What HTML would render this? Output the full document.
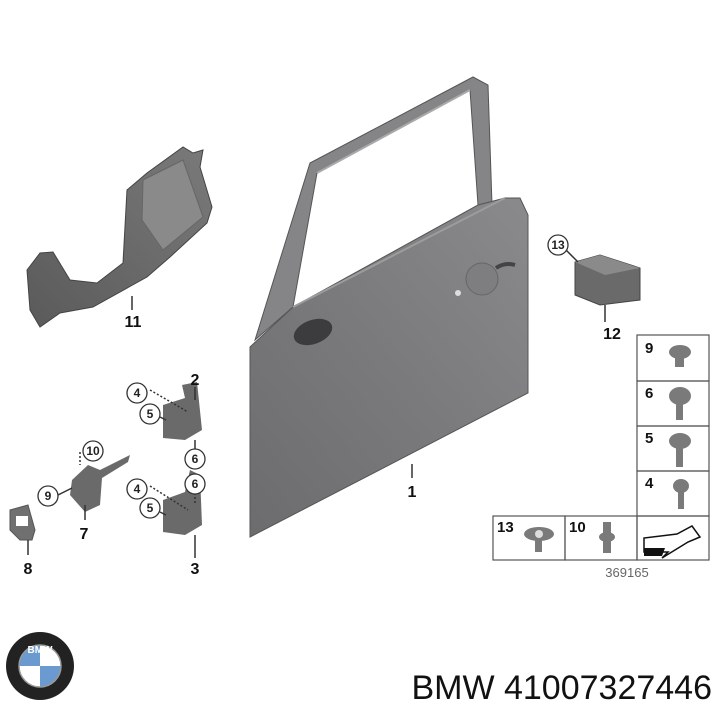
<!DOCTYPE html>
<html><head><style>
html,body{margin:0;padding:0;background:#fff;width:720px;height:720px;overflow:hidden}
svg{display:block}
text{font-family:"Liberation Sans",Arial,sans-serif}
</style></head><body>
<svg width="720" height="720" viewBox="0 0 720 720" xmlns="http://www.w3.org/2000/svg">
<defs>
<linearGradient id="dg" x1="1" y1="0" x2="0" y2="1">
<stop offset="0" stop-color="#8a8a8c"/><stop offset="0.5" stop-color="#7a7a7c"/><stop offset="1" stop-color="#6c6c6e"/>
</linearGradient>
<linearGradient id="pg" x1="1" y1="0" x2="0" y2="1">
<stop offset="0" stop-color="#7a7a7a"/><stop offset="1" stop-color="#5a5a5a"/>
</linearGradient>
</defs>
<!-- door frame -->
<path d="M255 340 L310 163 L473 77 L488 85 L492 205 L478 205 L470 90 L317 173 L293 307 Z" fill="#858587" stroke="#555" stroke-width="1"/>
<path d="M317 173 L470 90" stroke="#aaa" stroke-width="2" fill="none"/>
<!-- door panel -->
<path d="M250 347 L293 307 L478 205 L505 198 L520 198 L528 215 L528 393 L250 537 Z" fill="url(#dg)" stroke="#555" stroke-width="1"/>
<path d="M293 307 L505 198" stroke="#9c9c9e" stroke-width="2" fill="none"/>
<circle cx="482" cy="279" r="16" fill="#7e7e80" stroke="#666"/>
<path d="M496 268 Q505 262 515 265" stroke="#444" stroke-width="4" fill="none"/>
<circle cx="458" cy="293" r="3" fill="#ddd"/>
<ellipse cx="313" cy="332" rx="20" ry="12" fill="#3c3c3e" transform="rotate(-20 313 332)"/>
<!-- part 11 -->
<path d="M27 270 L40 253 L53 252 L70 280 L97 283 L123 263 L127 190 L147 173 L183 147 L193 153 L203 150 L200 167 L212 207 L207 223 L170 257 L147 277 L93 307 L60 313 L40 327 L30 310 Z" fill="url(#pg)" stroke="#444"/>
<path d="M143 180 L183 160 L203 217 L163 250 L142 220 Z" fill="#8a8a8a" stroke="#666"/>
<!-- part 12 -->
<path d="M575 262 L600 255 L640 268 L640 300 L600 305 L575 295 Z" fill="#6a6a6a" stroke="#444"/>
<path d="M575 262 L600 255 L640 268 L605 275 Z" fill="#8a8a8a"/>
<!-- hinges & others -->
<path d="M163 405 L185 398 L182 385 L197 382 L202 430 L185 440 L163 438 Z" fill="#6a6a6a"/>
<path d="M163 500 L185 492 L190 470 L200 475 L202 525 L185 535 L163 532 Z" fill="#6a6a6a"/>
<path d="M72 480 L88 465 L100 470 L130 455 L128 462 L102 478 L100 505 L85 512 L70 495 Z" fill="#6a6a6a"/>
<path d="M10 510 L28 505 L35 530 L32 540 L20 540 L10 530 Z" fill="#707070" stroke="#555"/>
<rect x="16" y="516" width="12" height="10" fill="#fff"/>
<!-- leader lines -->
<g stroke="#333" stroke-width="1.5" fill="none">
<line x1="132" y1="296" x2="132" y2="310"/>
<line x1="412" y1="464" x2="412" y2="478"/>
<line x1="605" y1="305" x2="605" y2="322"/>
<line x1="195" y1="387" x2="195" y2="400"/>
<line x1="195" y1="440" x2="195" y2="450"/>
<line x1="195" y1="535" x2="195" y2="558"/>
<line x1="85" y1="505" x2="85" y2="520"/>
<line x1="28" y1="540" x2="28" y2="555"/>
<line x1="565" y1="249" x2="578" y2="262"/>
<line x1="150" y1="390" x2="188" y2="412" stroke-dasharray="2,2"/>
<line x1="150" y1="486" x2="188" y2="510" stroke-dasharray="2,2"/>
<line x1="195" y1="493" x2="195" y2="505" stroke-dasharray="2,2"/>
<line x1="80" y1="452" x2="80" y2="465" stroke-dasharray="2,2"/>
<line x1="58" y1="495" x2="72" y2="488"/>
<line x1="160" y1="417" x2="166" y2="420"/>
<line x1="160" y1="512" x2="166" y2="515"/>
</g>
<g fill="#fff" stroke="#333" stroke-width="1.3">
<circle cx="558" cy="245" r="10"/>
<circle cx="137" cy="393" r="10"/>
<circle cx="150" cy="414" r="10"/>
<circle cx="195" cy="459" r="10"/>
<circle cx="137" cy="489" r="10"/>
<circle cx="195" cy="484" r="10"/>
<circle cx="150" cy="508" r="10"/>
<circle cx="93" cy="451" r="10"/>
<circle cx="48" cy="496" r="10"/>
</g>
<g font-size="12" text-anchor="middle" font-weight="bold" fill="#222">
<text x="558" y="249">13</text><text x="137" y="397">4</text><text x="150" y="418">5</text>
<text x="195" y="463">6</text><text x="137" y="493">4</text><text x="195" y="488">6</text>
<text x="150" y="512">5</text><text x="93" y="455">10</text><text x="48" y="500">9</text>
</g>
<g font-size="16" font-weight="bold" text-anchor="middle" fill="#111">
<text x="133" y="327">11</text><text x="412" y="497">1</text><text x="612" y="339">12</text>
<text x="195" y="385">2</text><text x="195" y="574">3</text><text x="84" y="539">7</text><text x="28" y="574">8</text>
</g>
<!-- parts table -->
<g fill="none" stroke="#555" stroke-width="1.2">
<rect x="637" y="335" width="72" height="46"/>
<rect x="637" y="381" width="72" height="45"/>
<rect x="637" y="426" width="72" height="45"/>
<rect x="637" y="471" width="72" height="45"/>
<rect x="493" y="516" width="72" height="44"/>
<rect x="565" y="516" width="72" height="44"/>
<rect x="637" y="516" width="72" height="44"/>
</g>
<g font-size="15" font-weight="bold" fill="#111">
<text x="645" y="353">9</text><text x="645" y="398">6</text><text x="645" y="443">5</text><text x="645" y="488">4</text>
<text x="497" y="532">13</text><text x="569" y="532">10</text>
</g>
<g fill="#7a7a7a">
<ellipse cx="680" cy="352" rx="11" ry="7"/><rect x="675" y="356" width="9" height="11"/>
<ellipse cx="680" cy="396" rx="11" ry="9"/><rect x="676" y="402" width="7" height="18"/>
<ellipse cx="680" cy="441" rx="11" ry="8"/><rect x="676" y="445" width="7" height="22"/>
<ellipse cx="681" cy="486" rx="8" ry="7"/><rect x="678" y="489" width="6" height="20"/>
<ellipse cx="539" cy="534" rx="15" ry="7"/><rect x="535" y="538" width="7" height="14"/>
<rect x="603" y="522" width="8" height="12"/><ellipse cx="607" cy="537" rx="8" ry="5"/><rect x="603" y="538" width="8" height="15"/>
</g>
<circle cx="539" cy="534" r="4" fill="#ddd"/>
<path d="M644 538 L644 552 L668 552 L662 558 L688 542 L700 537 L692 526 L677 534 Z" fill="#fff" stroke="#111" stroke-width="1.5"/>
<path d="M644 548 L665 548 L662 556 L644 556 Z" fill="#111"/>
<text x="627" y="577" font-size="13" text-anchor="middle" fill="#666">369165</text>
<!-- BMW logo -->
<circle cx="40" cy="666" r="34" fill="#222"/>
<circle cx="40" cy="666" r="21" fill="#fff"/>
<path d="M40 666 L40 645 A21 21 0 0 0 19 666 Z" fill="#6b9ad0"/>
<path d="M40 666 L40 687 A21 21 0 0 0 61 666 Z" fill="#6b9ad0"/>
<circle cx="40" cy="666" r="21" fill="none" stroke="#999" stroke-width="1.5"/>
<text x="40" y="653" font-size="10" fill="#fff" text-anchor="middle" font-weight="bold">BMW</text>
<text x="712" y="699" font-size="34" text-anchor="end" fill="#111">BMW 41007327446</text>
</svg>
</body></html>
